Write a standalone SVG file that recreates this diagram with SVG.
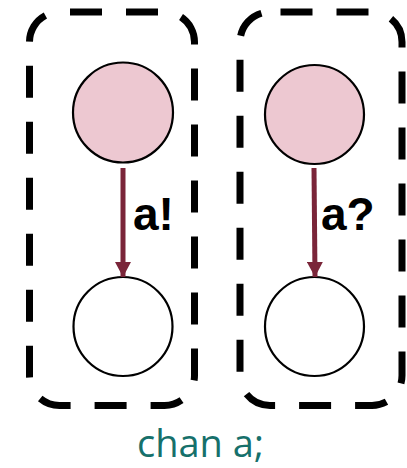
<svg xmlns="http://www.w3.org/2000/svg" width="407" height="468" viewBox="0 0 407 468">
  <style>
    .box { fill: none; stroke: #000; stroke-width: 7; stroke-dasharray: 32 24; stroke-dashoffset: 45.5; }
    .src { fill: #EDC8D1; stroke: #000; stroke-width: 2.2; }
    .dst { fill: #fff; stroke: #000; stroke-width: 2.2; }
    .edge { stroke: #7A2539; stroke-width: 5; fill: none; }
    .lbl { font-family: "Liberation Sans", Arial, sans-serif; font-weight: bold; font-size: 46px; fill: #000; }
    .decl { font-family: "Open Sans", "Noto Sans", sans-serif; font-size: 38px; fill: #16706B; }
  </style>
  <defs>
    <marker id="head" markerUnits="userSpaceOnUse" markerWidth="16" markerHeight="16" refX="15" refY="8" orient="auto">
      <path d="M0,0 L15,8 L0,16 Z" fill="#7A2539"/>
    </marker>
  </defs>

  <!-- dashed process boundaries -->
  <g id="process-send">
    <rect class="box" x="29.5" y="12" width="165" height="393.5" rx="30" ry="30"/>
  </g>
  <g id="process-recv">
    <rect class="box" x="240" y="12" width="162" height="393.5" rx="30" ry="30"/>
  </g>

  <!-- states -->
  <g id="send-from">
    <circle class="src" cx="123" cy="112.5" r="50"/>
  </g>
  <g id="send-to">
    <circle class="dst" cx="123" cy="326.5" r="49.5"/>
  </g>
  <g id="recv-from">
    <circle class="src" cx="314.5" cy="114.5" r="49.5"/>
  </g>
  <g id="recv-to">
    <circle class="dst" cx="314.5" cy="326.5" r="49.5"/>
  </g>

  <!-- transitions -->
  <g id="connectors">
    <line class="edge" x1="123" y1="168" x2="123" y2="277" marker-end="url(#head)"/>
    <line class="edge" x1="314" y1="168" x2="315" y2="277" marker-end="url(#head)"/>
  </g>

  <g id="labels">
    <text class="lbl" x="133" y="230">a!</text>
    <text class="lbl" x="321" y="230">a?</text>
    <text class="decl" x="137" y="456.5">chan a;</text>
  </g>
</svg>
